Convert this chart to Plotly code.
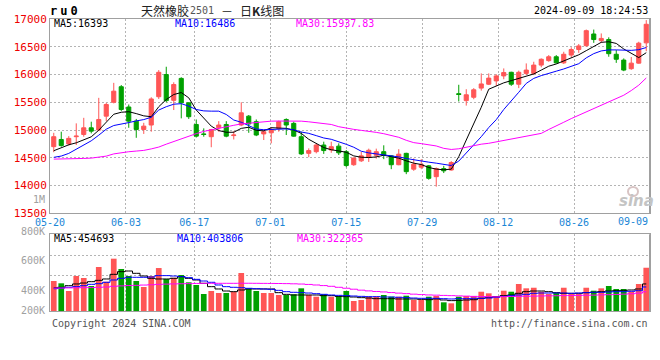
import plotly.graph_objects as go

# ---------------- data ----------------
date_labels = ["05-20", "06-03", "06-17", "07-01", "07-15", "07-29", "08-12", "08-26", "09-09"]
label_idx = [0, 10, 19, 29, 39, 49, 59, 69, 79]
price_ticks = [13500, 14000, 14500, 15000, 15500, 16000, 16500, 17000]

open_ = [14700, 14830, 14750, 14880, 14920, 15040, 15000, 15250, 15500, 15780,
         15415, 15160, 15010, 15090, 15600, 16000, 15535, 15930, 15490, 15100,
         14930, 14880, 15040, 15100, 14900, 15090, 15250, 15150, 14930, 14950,
         15030, 15190, 15120, 14880, 14580, 14610, 14730, 14640, 14710, 14610,
         14375, 14445, 14505, 14545, 14610, 14535, 14375, 14580, 14295, 14330,
         14355, 14160, 14305, 14280, 15655, 15530, 15590, 15755, 15825, 15885,
         15975, 16040, 15825, 16020, 16020, 16170, 16250, 16320, 16210, 16350,
         16450, 16520, 16730, 16610, 16630, 16365, 16260, 16105, 16205, 16570]
high = [14950, 14970, 14890, 15120, 15220, 15150, 15580, 15490, 15850, 15810,
        15460, 15200, 15130, 15590, 16080, 16140, 15860, 15950, 15500, 15190,
        15030, 15020, 15160, 15160, 14980, 15500, 15270, 15190, 15000, 15050,
        15170, 15210, 15150, 14970, 14670, 14760, 14790, 14790, 14760, 14640,
        14505, 14605, 14665, 14665, 14725, 14545, 14655, 14590, 14490, 14475,
        14370, 14325, 14355, 14440, 15815, 15735, 15755, 16020, 16020, 16005,
        16110, 16050, 16070, 16200, 16230, 16290, 16350, 16350, 16410, 16490,
        16550, 16810, 16810, 16740, 16670, 16440, 16290, 16315, 16590, 16980]
low = [14600, 14700, 14720, 14730, 14880, 14940, 14980, 15160, 15480, 15340,
       15040, 14860, 14930, 14970, 15560, 15500, 15360, 15210, 15200, 14865,
       14880, 14690, 14970, 14870, 14830, 15070, 14950, 14890, 14820, 14760,
       14970, 14910, 14880, 14550, 14510, 14580, 14570, 14590, 14550, 14330,
       14355, 14425, 14425, 14485, 14475, 14295, 14365, 14205, 14265, 14295,
       14105, 13980, 14225, 14270, 15515, 15440, 15555, 15710, 15810, 15795,
       15915, 15795, 15755, 15990, 15990, 16130, 16230, 16200, 16190, 16310,
       16390, 16500, 16570, 16570, 16320, 16210, 16060, 16085, 16195, 16420]
close = [14880, 14720, 14850, 14890, 15040, 14980, 15190, 15460, 15700, 15370,
         15160, 15010, 15070, 15560, 16040, 15530, 15820, 15490, 15240, 14890,
         14920, 15010, 15090, 14890, 14910, 15310, 15110, 14910, 14970, 15010,
         15150, 15090, 14890, 14570, 14630, 14730, 14630, 14700, 14590, 14360,
         14495, 14535, 14635, 14610, 14545, 14375, 14565, 14250, 14385, 14380,
         14130, 14305, 14265, 14415, 15640, 15635, 15725, 15830, 15935, 15975,
         16035, 15825, 16040, 16080, 16170, 16275, 16320, 16210, 16365, 16450,
         16515, 16790, 16630, 16650, 16375, 16275, 16080, 16205, 16565, 16905]

ma5 = [14627, 14687, 14734, 14770, 14818, 14878, 14997, 15146, 15284, 15320,
       15330, 15296, 15255, 15240, 15420, 15550, 15640, 15675, 15580, 15360,
       15210, 15070, 14990, 14960, 14960, 15030, 15050, 14995, 14985, 15042,
       15035, 15030, 15000, 14940, 14833, 14761, 14684, 14645, 14625, 14600,
       14534, 14510, 14504, 14516, 14546, 14522, 14493, 14445, 14403, 14379,
       14325, 14296, 14284, 14295, 14520, 14820, 15110, 15410, 15735, 15790,
       15850, 15890, 15930, 15965, 16010, 16080, 16150, 16190, 16245, 16300,
       16355, 16430, 16500, 16580, 16590, 16560, 16460, 16380, 16305, 16393]
ma10 = [14508, 14531, 14579, 14651, 14722, 14806, 14907, 15015, 15081, 15104,
        15134, 15164, 15188, 15230, 15360, 15420, 15465, 15475, 15430, 15370,
        15345, 15340, 15340, 15280, 15180, 15140, 15080, 15018, 15006, 15005,
        15015, 15020, 15005, 14964, 14940, 14899, 14857, 14833, 14791, 14743,
        14690, 14618, 14588, 14570, 14552, 14540, 14516, 14487, 14463, 14433,
        14421, 14403, 14379, 14360, 14440, 14590, 14720, 14880, 15045, 15187,
        15370, 15535, 15680, 15840, 15930, 15980, 16025, 16060, 16100, 16150,
        16195, 16300, 16376, 16425, 16443, 16443, 16437, 16435, 16447, 16486]
ma30 = [14476, 14476, 14480, 14482, 14488, 14494, 14506, 14530, 14570, 14595,
        14609, 14621, 14633, 14660, 14693, 14745, 14795, 14843, 14895, 14935,
        14975, 15005, 15035, 15065, 15085, 15110, 15125, 15140, 15155, 15160,
        15162, 15163, 15163, 15160, 15148, 15132, 15118, 15100, 15060, 15030,
        15012, 14994, 14982, 14958, 14934, 14904, 14869, 14815, 14773, 14755,
        14737, 14713, 14670, 14650, 14662, 14690, 14719, 14745, 14761, 14785,
        14806, 14830, 14860, 14880, 14905, 14940, 15010, 15070, 15140, 15206,
        15266, 15320, 15380, 15447, 15507, 15555, 15627, 15711, 15808, 15937.83]

# volume in thousands of lots
volume = [504, 465, 336, 588, 554, 420, 739, 492, 879, 706,
          588, 504, 403, 588, 722, 538, 559, 605, 482, 437,
          286, 336, 302, 302, 324, 638, 381, 336, 302, 302,
          269, 269, 281, 381, 269, 240, 281, 240, 252, 336,
          168, 185, 240, 240, 269, 240, 240, 257, 185, 185,
          240, 252, 146, 129, 240, 252, 252, 324, 297, 240,
          341, 324, 454, 381, 391, 324, 286, 307, 391, 286,
          286, 391, 341, 381, 420, 370, 370, 324, 454, 727]
vol_ma5 = [391, 398, 425, 454, 470, 493, 515, 538, 616, 661,
           672, 633, 588, 549, 538, 538, 549, 577, 549, 521,
           465, 409, 370, 336, 325, 353, 370, 370, 370, 370,
           308, 280, 269, 269, 269, 269, 258, 258, 246, 241,
           235, 224, 218, 207, 207, 207, 202, 202, 202, 196,
           190, 202, 185, 174, 179, 185, 190, 213, 230, 241,
           258, 269, 297, 325, 336, 336, 325, 308, 297, 297,
           297, 308, 314, 325, 336, 341, 347, 353, 370, 454.693]
vol_ma10 = [375, 386, 398, 409, 425, 448, 459, 482, 521, 549,
            566, 566, 566, 571, 594, 594, 588, 577, 560, 532,
            504, 482, 437, 409, 398, 391, 381, 375, 370, 364,
            347, 325, 314, 308, 302, 291, 280, 269, 263, 258,
            252, 246, 241, 241, 235, 235, 230, 224, 218, 213,
            213, 213, 207, 202, 207, 207, 213, 213, 218, 230,
            246, 258, 269, 280, 297, 302, 302, 302, 302, 297,
            302, 308, 314, 314, 319, 325, 325, 331, 341, 403.806]
vol_ma30 = [385, 386, 388, 390, 392, 394, 398, 403, 415, 422,
            428, 431, 436, 441, 447, 452, 455, 458, 460, 463,
            465, 465, 465, 465, 465, 466, 466, 465, 464, 463,
            462, 460, 457, 453, 446, 437, 427, 415, 398, 382,
            366, 350, 338, 328, 320, 310, 300, 292, 283, 276,
            270, 266, 262, 258, 254, 250, 246, 243, 241, 238,
            241, 244, 246, 248, 250, 253, 255, 256, 259, 260,
            262, 265, 267, 271, 274, 278, 283, 290, 300, 322.365]
vol_label_text = ["1M", "800K", "600K", "400K", "200K"]

# ---------------- figure ----------------
W, H = 660, 360
L, R, T, B = 50, 10, 19, 49
PW, PH = W - L - R, H - T - B


def px(xp):
    return (xp - L) / PW


def py(yp):
    return (H - B - yp) / PH


n = len(close)
xs = list(range(n))
RED = "#ff5656"
GREEN = "#00a000"
GRID = "#b4b4b4"
FRAME = "#a0a0a0"
MONO = "DejaVu Sans Mono"
BLUE_LBL = "#1a86d6"

vol_colors = [RED if c >= o else GREEN for o, c in zip(open_, close)]
grid_pos = [k * n / (n - 1) - 0.5 for k in label_idx]
tick_text = date_labels[:-1] + [""]

fig = go.Figure()
fig.add_trace(go.Candlestick(
    x=xs, open=open_, high=high, low=low, close=close,
    increasing=dict(line=dict(color=RED, width=1), fillcolor=RED),
    decreasing=dict(line=dict(color=GREEN, width=1), fillcolor=GREEN),
    whiskerwidth=0, showlegend=False, xaxis="x", yaxis="y"))
for arr, col in [(ma5, "#000000"), (ma10, "#0000ff"), (ma30, "#ff00ff")]:
    fig.add_trace(go.Scatter(x=xs, y=arr, mode="lines", line=dict(color=col, width=1),
                             showlegend=False, xaxis="x", yaxis="y", hoverinfo="skip"))

fig.add_trace(go.Bar(x=xs, y=volume, marker=dict(color=vol_colors, line=dict(width=0)),
                     width=0.76, showlegend=False, xaxis="x2", yaxis="y2"))
for arr, col in [(vol_ma5, "#000000"), (vol_ma10, "#0000ff"), (vol_ma30, "#ff00ff")]:
    fig.add_trace(go.Scatter(x=xs, y=arr, mode="lines", line=dict(color=col, width=1, shape="hvh"),
                             showlegend=False, xaxis="x2", yaxis="y2", hoverinfo="skip"))

main_bottom = py(213.3)
vol_top = py(234.3)
vol_max = 1288.6

common = dict(showline=True, linecolor=FRAME, linewidth=1, mirror=True, zeroline=False,
              ticks="", showgrid=True, gridcolor=GRID, griddash="2px,2px", gridwidth=1,
              automargin=False, fixedrange=True)

fig.update_layout(
    width=W, height=H, margin=dict(l=L, r=R, t=T, b=B, pad=0, autoexpand=False),
    paper_bgcolor="white", plot_bgcolor="white", boxgap=0.22,
    xaxis=dict(domain=[0, 1], anchor="y", range=[-0.5, n - 0.5],
               tickmode="array", tickvals=grid_pos, ticktext=tick_text,
               tickfont=dict(family=MONO, size=10, color=BLUE_LBL),
               rangeslider=dict(visible=False), **common),
    yaxis=dict(domain=[main_bottom, 1], anchor="x", range=[13500, 17000],
               tickmode="array", tickvals=price_ticks, ticktext=[str(v) for v in price_ticks],
               tickfont=dict(family=MONO, size=11, color="#ee0000"), **common),
    xaxis2=dict(domain=[0, 1], anchor="y2", range=[-0.5, n - 0.5],
                tickmode="array", tickvals=grid_pos, showticklabels=False, **common),
    yaxis2=dict(domain=[0, vol_top], anchor="x2", range=[0, vol_max],
                tickmode="array", tickvals=[593, 936], showticklabels=False, **common),
)

ann = []


def text(x, y, s, size=10, color="#000", anchor="left", family=MONO):
    ann.append(dict(x=px(x), y=py(y), xref="paper", yref="paper", text=s, showarrow=False,
                    xanchor=anchor, yanchor="middle", font=dict(family=family, size=size, color=color)))


CJK = "Noto Sans CJK SC"
text(48, 11, "<b><span style=\"letter-spacing:3px\">ru0</span></b>", size=12, color="#000")
text(139, 10.5, "天然橡胶", size=12, color="#222", family=CJK)
text(188, 11, "2501", size=10, color="#555")
text(219, 10.5, "－", size=12, color="#222", family=CJK)
text(238, 10.5, "日<b>K</b>线图", size=12, color="#222", family=CJK)
text(650, 11, "2024-09-09 18:24:53", size=10, color="#000", anchor="right")

text(52, 23.5, f"MA5:{ma5[-1]:.0f}", color="#000000")
text(173, 23.5, f"MA10:{ma10[-1]:.0f}", color="#0000ff")
text(294, 23.5, f"MA30:{ma30[-1]:.2f}", color="#ff00ff")

text(52, 238.5, f"MA5:{vol_ma5[-1] * 1000:.0f}", color="#000000")
text(175, 238.5, f"MA10:{vol_ma10[-1] * 1000:.0f}", color="#0000ff")
text(295, 238.5, f"MA30:{vol_ma30[-1] * 1000:.0f}", color="#ff00ff")

for s, yy in zip(vol_label_text, [200, 231, 260, 290.5, 310.5]):
    text(47, yy, s, size=10, color="#a0a0a0", anchor="right")

text(650, 221, date_labels[-1], size=10, color=BLUE_LBL, anchor="right")

text(50, 323.5, "Copyright 2024 SINA.COM", size=10, color="#555", anchor="left")
text(650, 323.5, "http://finance.sina.com.cn", size=10, color="#555", anchor="right")

text(636, 201, "<b><i>sina</i></b>", size=15, color="#c4c4c4", anchor="center", family="DejaVu Sans")

fig.update_layout(annotations=ann)

# thicker right frame as in the original
shapes = [
    dict(type="line", xref="paper", yref="paper", x0=1, x1=1, y0=main_bottom, y1=1,
         line=dict(color=FRAME, width=2)),
    dict(type="line", xref="paper", yref="paper", x0=1, x1=1, y0=0, y1=vol_top,
         line=dict(color=FRAME, width=2)),
    dict(type="circle", xref="paper", yref="paper", x0=px(628), x1=px(638), y0=py(196), y1=py(187),
         line=dict(color="#d8c4c4", width=2)),
]
fig.update_layout(shapes=shapes)

fig.write_html("out.html", config={"displayModeBar": False},
               post_script="document.body.style.margin='0px';document.body.style.overflow='hidden';")
